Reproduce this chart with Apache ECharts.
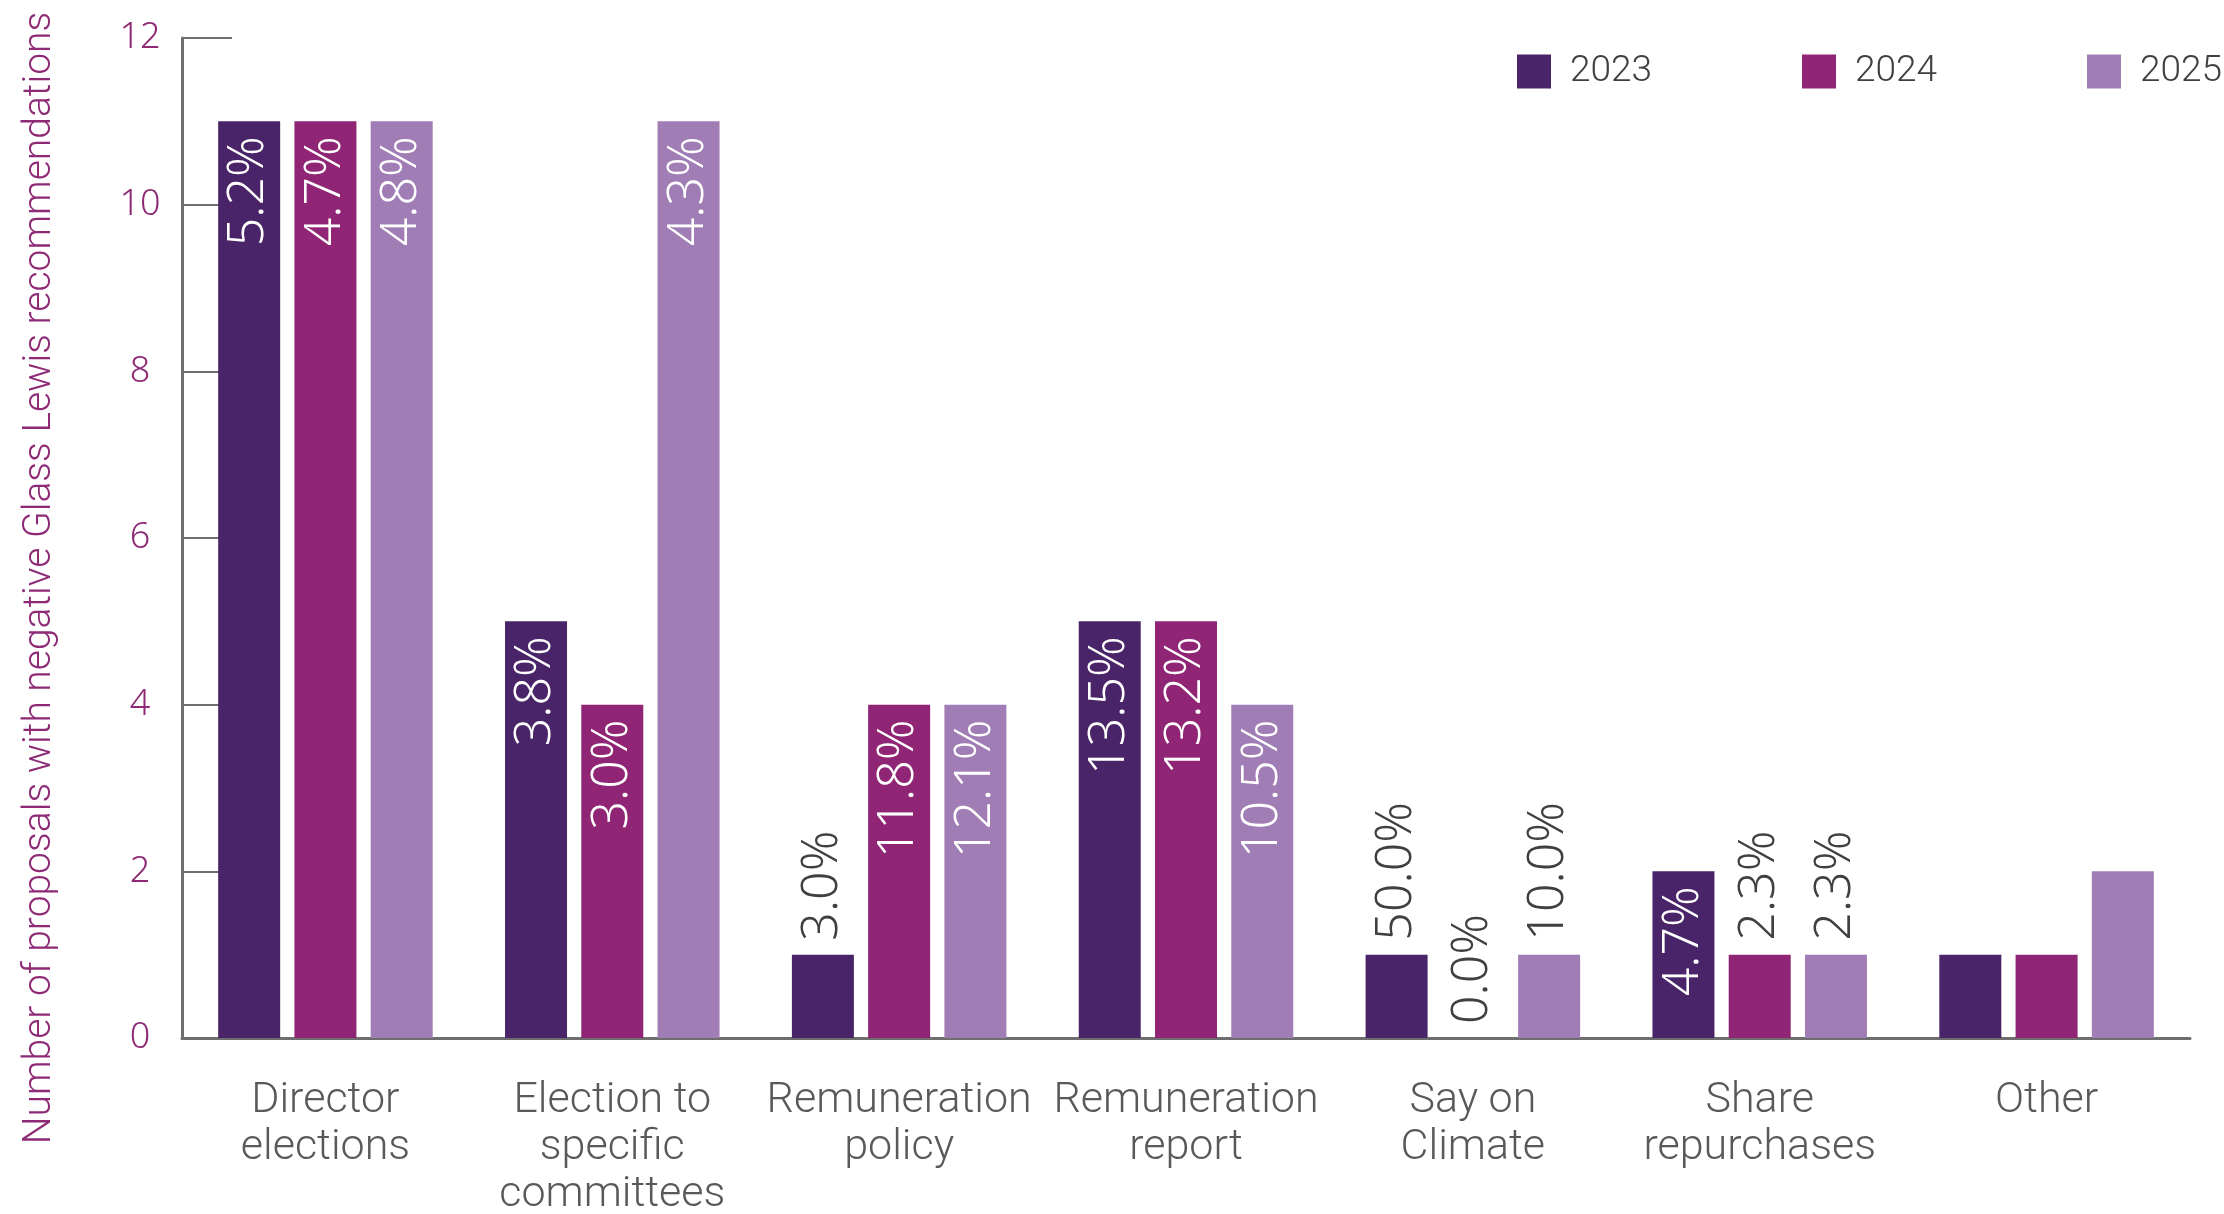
<!DOCTYPE html>
<html>
<head>
<meta charset="utf-8">
<script src="https://cdn.jsdelivr.net/npm/echarts@6/dist/echarts.min.js"></script>
<style>
  html, body { margin: 0; padding: 0; background: #ffffff; }
  #chart { width: 2224px; height: 1214px; }
</style>
</head>
<body>
<div id="chart"></div>
<script>
// Proposal categories (x axis)
const categories = [
  'Director\nelections',
  'Election to\nspecific\ncommittees',
  'Remuneration\npolicy',
  'Remuneration\nreport',
  'Say on\nClimate',
  'Share\nrepurchases',
  'Other'
];

const years = ['2023', '2024', '2025'];

// Number of proposals with negative recommendations
const counts2023 = [11, 5, 1, 5, 1, 2, 1];
const counts2024 = [11, 4, 4, 5, 0, 1, 1];
const counts2025 = [11, 11, 4, 4, 1, 1, 2];

// Share labels written on or above each bar
const share2023 = ['5.2%', '3.8%', '3.0%', '13.5%', '50.0%', '4.7%', null];
const share2024 = ['4.7%', '3.0%', '11.8%', '13.2%', '0.0%', '2.3%', null];
const share2025 = ['4.8%', '4.3%', '12.1%', '10.5%', '10.0%', '2.3%', null];

const yTicks = [0, 2, 4, 6, 8, 10, 12];

const colors = ['#4a2468', '#8f2574', '#a17db6'];
const purpleText = '#8e2a75';
const axisGrey = '#6e6e6e';
const pctFont = '"Noto Sans", sans-serif';
const condFont = 'Roboto, sans-serif';

const insideLabel = {
  show: true,
  position: 'insideTop',
  rotate: 90,
  align: 'right',
  verticalAlign: 'middle',
  distance: 15,
  color: '#ffffff',
  fontFamily: pctFont,
  fontWeight: 300,
  fontSize: 50
};
const outsideLabel = {
  show: true,
  position: 'top',
  rotate: 90,
  align: 'left',
  verticalAlign: 'middle',
  distance: 14,
  color: '#404040',
  fontFamily: pctFont,
  fontWeight: 300,
  fontSize: 50
};

function buildData(counts, shares) {
  return counts.map((v, i) => {
    const s = shares[i];
    if (s == null) return { value: v, label: { show: false } };
    const base = v >= 2 ? insideLabel : outsideLabel;
    return { value: v, label: Object.assign({}, base, { formatter: s }) };
  });
}

const seriesCounts = [counts2023, counts2024, counts2025];
const seriesShares = [share2023, share2024, share2025];

const chart = echarts.init(document.getElementById('chart'), null, { renderer: 'canvas' });

// one legend block per year, spaced evenly along the top right
const legends = years.map((y, i) => ({
  data: [y],
  left: 1517 + 285 * i,
  top: 53,
  padding: 0,
  itemWidth: 34,
  itemHeight: 34,
  icon: 'rect',
  textStyle: { color: '#404040', fontFamily: condFont, fontWeight: 300, fontSize: 37, padding: [4, 0, 0, 14] }
}));

chart.setOption({
  animation: false,
  backgroundColor: '#ffffff',
  grid: { left: 182, right: 34, top: 38, bottom: 176, containLabel: false, outerBoundsMode: 'none' },
  legend: legends,
  xAxis: {
    type: 'category',
    data: categories,
    axisLine: { show: true, lineStyle: { color: axisGrey, width: 3 } },
    axisTick: { show: false },
    axisLabel: {
      interval: 0,
      margin: 40,
      color: '#595959',
      fontFamily: condFont,
      fontWeight: 300,
      fontSize: 43,
      lineHeight: 47
    }
  },
  yAxis: {
    type: 'value',
    min: yTicks[0],
    max: yTicks[yTicks.length - 1],
    interval: 2,
    name: 'Number of proposals with negative Glass Lewis recommendations',
    nameLocation: 'middle',
    nameGap: 122,
    nameTextStyle: {
      color: purpleText,
      fontFamily: condFont,
      fontWeight: 300,
      fontSize: 39,
      padding: [0, 80, 0, 0]
    },
    axisLine: { show: true, lineStyle: { color: axisGrey, width: 3 } },
    axisTick: { show: true, inside: true, length: 50, lineStyle: { color: axisGrey, width: 2 } },
    splitLine: { show: false },
    axisLabel: {
      margin: 42,
      align: 'center',
      color: purpleText,
      fontFamily: pctFont,
      fontWeight: 300,
      fontSize: 36
    }
  },
  series: years.map((y, k) => ({
    name: y,
    type: 'bar',
    barWidth: 62,
    barGap: '23%',
    itemStyle: { color: colors[k] },
    data: buildData(seriesCounts[k], seriesShares[k])
  }))
});
</script>
</body>
</html>
